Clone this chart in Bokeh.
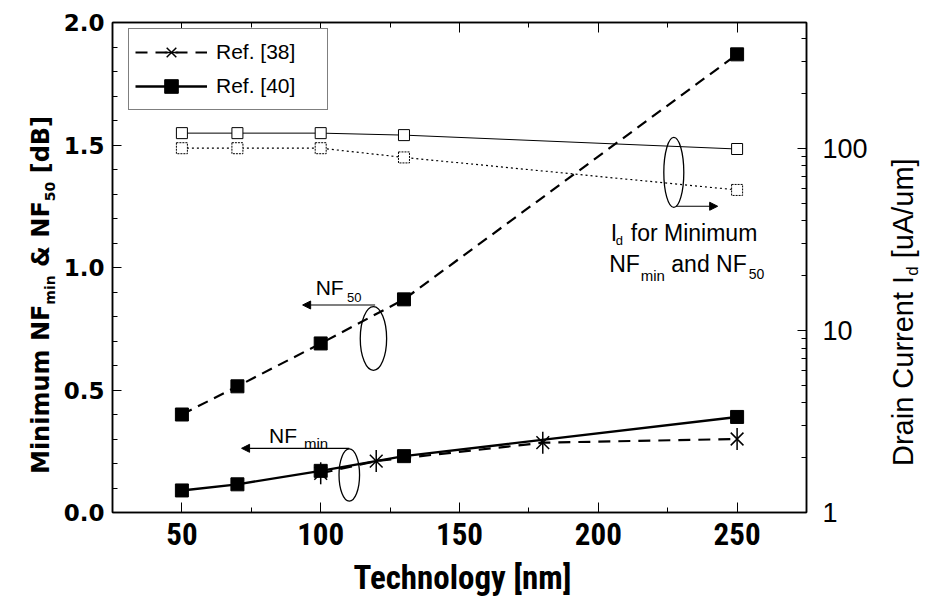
import math
from bokeh.plotting import figure
from bokeh.models import (Range1d, LinearAxis, LogAxis, LogScale, FixedTicker,
                          NumeralTickFormatter, BasicTickFormatter, Label, Arrow,
                          NormalHead, Legend, LegendItem, Div)
from bokeh.layouts import row, column
from bokeh.embed import file_html
from bokeh.resources import INLINE

# ---------------- data ----------------
tech_nf50 = [50, 70, 100, 130, 250]
nf50_ref40 = [0.40, 0.515, 0.69, 0.87, 1.87]
tech_ref40 = [50, 70, 100, 130, 250]
nfmin_ref40 = [0.09, 0.115, 0.17, 0.23, 0.39]
tech_ref38 = [100, 120, 180, 250]
nfmin_ref38 = [0.16, 0.21, 0.285, 0.30]
tech_id = [50, 70, 100, 130, 250]
id_upper = [121, 121, 121, 118, 99]
id_lower = [100, 100, 100, 89, 59]

x_ticks = [50, 100, 150, 200, 250]
x_minor = [25, 75, 125, 175, 225, 275]
y_ticks = [0.0, 0.5, 1.0, 1.5, 2.0]
y_minor = [0.1, 0.2, 0.3, 0.4, 0.6, 0.7, 0.8, 0.9, 1.1, 1.2, 1.3, 1.4, 1.6, 1.7, 1.8, 1.9]
id_ticks = [1, 10, 100]
id_minor = [2, 3, 4, 5, 6, 7, 8, 9, 20, 30, 40, 50, 60, 70, 80, 90, 200, 300, 400]

# ---------------- layout ----------------
W, H = 925, 606
LEFT_W, RIGHT_W = 60, 40
PLOT_W, PLOT_H = W - LEFT_W - RIGHT_W, 560
BOTTOM_H = H - PLOT_H
FL, FR, FT, FB = 111, 806, 22, 512          # frame edges in page pixels
X0, X1 = 25, 275
Y0, Y1 = 0.0, 2.0
ID0, ID1 = 1, 490
NARROW = "Roboto Condensed, DejaVu Sans Condensed, Liberation Sans, sans-serif"

p = figure(width=PLOT_W, height=PLOT_H, x_range=Range1d(X0, X1), y_range=Range1d(Y0, Y1),
           output_backend="svg", toolbar_location=None, title=None,
           min_border_left=FL - LEFT_W, min_border_right=LEFT_W + PLOT_W - FR,
           min_border_top=FT, min_border_bottom=PLOT_H - FB, margin=0)
p.xgrid.visible = False
p.ygrid.visible = False
p.background_fill_color = "white"
p.border_fill_color = "white"
p.outline_line_color = "black"
p.outline_line_width = 1.5

# left axis
ax = p.yaxis[0]
ax.ticker = FixedTicker(ticks=y_ticks, minor_ticks=y_minor)
ax.formatter = NumeralTickFormatter(format="0.0")
ax.major_tick_in = 9
ax.major_tick_out = 0
ax.minor_tick_in = 5
ax.minor_tick_out = 0
ax.major_label_standoff = 8
ax.major_label_text_font = "DejaVu Sans"
ax.major_label_text_font_style = "bold"
ax.major_label_text_font_size = "23px"
ax.major_label_text_color = "black"
ax.axis_line_width = 1.5

# bottom axis
bx = p.xaxis[0]
bx.ticker = FixedTicker(ticks=x_ticks, minor_ticks=x_minor)
bx.major_tick_in = 10
bx.major_tick_out = 0
bx.minor_tick_in = 5
bx.minor_tick_out = 0
bx.major_label_standoff = 10
bx.major_label_text_font = NARROW
bx.major_label_text_font_style = "bold"
bx.major_label_text_font_size = "31px"
bx.major_label_text_color = "black"
bx.axis_line_width = 1.5

# top mirror axis (ticks only)
tx = LinearAxis(ticker=FixedTicker(ticks=x_ticks, minor_ticks=x_minor),
                major_tick_in=10, major_tick_out=0, minor_tick_in=5, minor_tick_out=0,
                major_label_text_color=None, major_label_text_font_size="1px",
                major_label_standoff=0, axis_line_width=1.5)
p.add_layout(tx, "above")

# right log axis
p.extra_y_ranges = {"id": Range1d(ID0, ID1)}
p.extra_y_scales = {"id": LogScale()}
rx = LogAxis(y_range_name="id", ticker=FixedTicker(ticks=id_ticks, minor_ticks=id_minor),
             formatter=BasicTickFormatter(),
             major_label_overrides={1: "1", 10: "10", 100: "100"},
             major_tick_in=9, major_tick_out=0, minor_tick_in=5, minor_tick_out=0,
             major_label_standoff=16, major_label_text_font="Liberation Sans",
             major_label_text_font_size="27px", major_label_text_color="black",
             axis_line_width=1.5)
p.add_layout(rx, "right")

# ---------------- series ----------------
p.line(tech_id, id_upper, y_range_name="id", line_color="black", line_width=1)
p.scatter(tech_id, id_upper, y_range_name="id", marker="square", size=11,
          fill_color="white", line_color="black", line_width=1)
p.line(tech_id, id_lower, y_range_name="id", line_color="black", line_width=1.2,
       line_dash="2 3")
p.scatter(tech_id, id_lower, y_range_name="id", marker="square", size=11,
          fill_color="white", line_color="black", line_width=1, line_dash="2 1")

p.line(tech_nf50, nf50_ref40, line_color="black", line_width=2.2, line_dash="11 7")
p.scatter(tech_nf50, nf50_ref40, marker="square", size=13, fill_color="black",
          line_color="black")

l38 = p.line(tech_ref38, nfmin_ref38, line_color="black", line_width=2.2, line_dash="12 8")
s38a = p.scatter(tech_ref38, nfmin_ref38, marker="x", size=18, line_color="black",
                 line_width=1.5)
s38b = p.scatter(tech_ref38, nfmin_ref38, marker="dash", angle=math.pi / 2, size=22,
                 line_color="black", line_width=1.5)

l40 = p.line(tech_ref40, nfmin_ref40, line_color="black", line_width=2.4)
s40 = p.scatter(tech_ref40, nfmin_ref40, marker="square", size=13, fill_color="black",
                line_color="black")

# ---------------- legend ----------------
legend = Legend(items=[LegendItem(label="Ref. [38]", renderers=[l38, s38a, s38b]),
                       LegendItem(label="Ref. [40]", renderers=[l40, s40])],
                location=(16, FB - 110), margin=0, padding=6, spacing=0,
                label_height=34, glyph_height=34, glyph_width=72, label_standoff=9,
                label_width=105,
                label_text_font="Liberation Sans", label_text_font_size="21px",
                label_text_color="black",
                border_line_color="black", border_line_width=1.5,
                background_fill_color="white", background_fill_alpha=1.0)
p.add_layout(legend)

# ---------------- annotations ----------------
ell_x = [110.3, 119.0, 227.2]
ell_y = [0.153, 0.71, 1.388]
ell_w = [7.4, 9.5, 7.2]
ell_h = [0.213, 0.26, 0.286]
p.ellipse(ell_x, ell_y, width=ell_w, height=ell_h, fill_color=None,
          line_color="black", line_width=1.3)

for xs, ys, xe, ye in [(110.3, 0.262, 71.5, 0.262), (119.6, 0.847, 93.5, 0.847),
                       (227.9, 1.25, 243.0, 1.25)]:
    p.add_layout(Arrow(end=NormalHead(size=8, fill_color="black", line_color="black",
                                      line_width=1),
                       x_start=xs, y_start=ys, x_end=xe, y_end=ye,
                       line_color="black", line_width=1.2))


def lab(text, x, y, size):
    p.add_layout(Label(x=x, y=y, text=text, text_font="Liberation Sans",
                       text_font_size=f"{size}px", text_color="black",
                       text_align="left", text_baseline="alphabetic"))


lab("NF", 81.4, 0.313, 21)
lab("min", 94.0, 0.28, 15)
lab("NF", 98.2, 0.92, 21)
lab("50", 109.5, 0.878, 13)
lab("I", 204.5, 1.14, 23)
lab("d", 206.3, 1.112, 13)
lab("for Minimum", 211.7, 1.14, 23)
lab("NF", 203.9, 1.015, 23)
lab("min", 215.3, 0.967, 15)
lab("and NF", 226.3, 1.015, 23)
lab("50", 254.2, 0.974, 14)

# ---------------- axis titles (HTML, rotated) ----------------
ROT = ("position:absolute; transform:rotate(-90deg); transform-origin:0 0; "
       "white-space:nowrap; color:black; margin:0; padding:0; ")
left_html = (
    f'<div style="{ROT} left:29px; top:474px; font-family:\'DejaVu Sans\'; '
    'font-weight:bold; font-size:24px; line-height:24px;">'
    'Minimum NF<span style="font-size:14px; position:relative; top:6px;">min</span>'
    ' &amp; NF<span style="font-size:14px; position:relative; top:6px;">50</span>'
    ' [dB]</div>')
right_html = (
    f'<div style="{ROT} left:4px; top:466px; font-family:\'Liberation Sans\'; '
    'font-weight:normal; font-size:29px; line-height:29px;">'
    'Drain Current I<span style="font-size:17px; position:relative; top:5px;">d</span>'
    ' [uA/um]</div>')
bottom_html = (
    f'<div style="position:absolute; left:0px; top:1px; width:{W}px; text-align:center; '
    f'white-space:nowrap; color:black; margin:0; padding:0; font-family:{NARROW}; '
    'font-weight:bold; font-size:33px; line-height:33px;">Technology [nm]</div>')

box = {"position": "relative", "overflow": "visible", "background-color": "white"}
left_div = Div(text=left_html, width=LEFT_W, height=PLOT_H, styles=box, margin=0)
right_div = Div(text=right_html, width=RIGHT_W, height=PLOT_H, styles=box, margin=0)
bottom_div = Div(text=bottom_html, width=W, height=BOTTOM_H, styles=box, margin=0)

page = column(row(left_div, p, right_div, spacing=0, margin=0), bottom_div,
              spacing=0, margin=0)

open("out.html", "w").write(file_html(page, INLINE))
